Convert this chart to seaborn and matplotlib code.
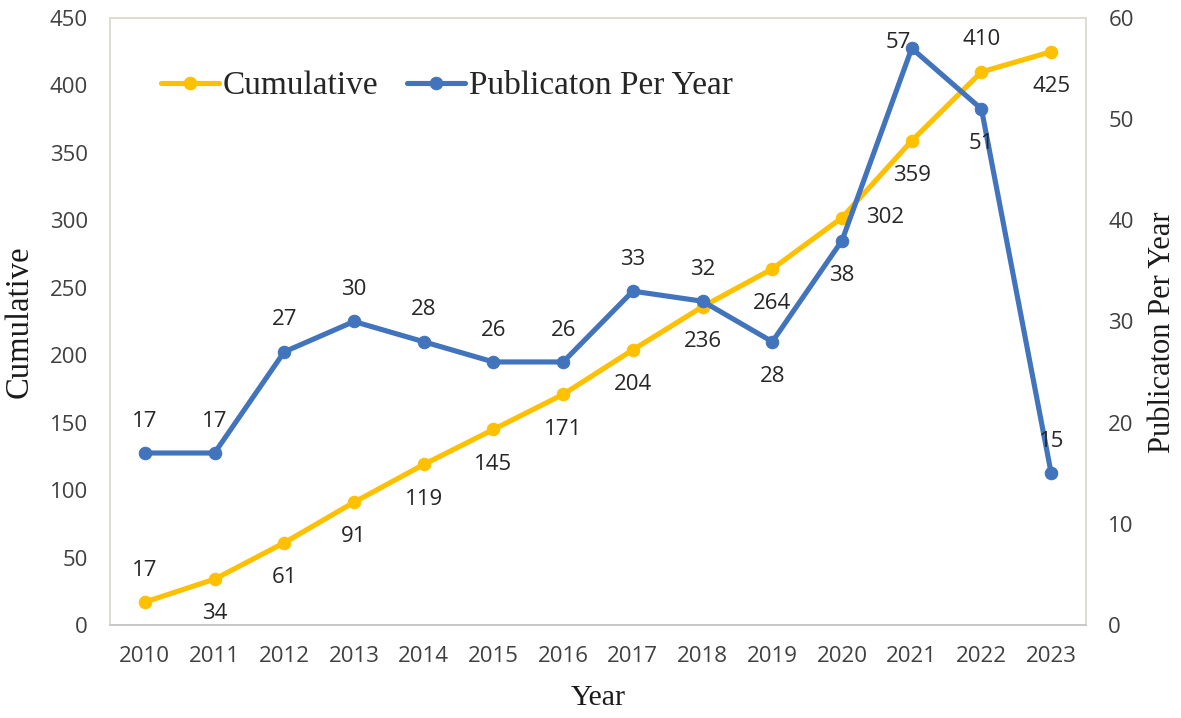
import matplotlib
matplotlib.use("Agg")
import matplotlib.pyplot as plt
import pandas as pd
import seaborn as sns

years = ["2010", "2011", "2012", "2013", "2014", "2015", "2016",
         "2017", "2018", "2019", "2020", "2021", "2022", "2023"]
cumulative = [17, 34, 61, 91, 119, 145, 171, 204, 236, 264, 302, 359, 410, 425]
per_year = [17, 17, 27, 30, 28, 26, 26, 33, 32, 28, 38, 57, 51, 15]

# where each data label sits: a = above, b = below, r = right, l = up-left
cum_pos = ["a", "b", "b", "b", "b", "b", "b", "b", "b", "b", "r", "b", "a", "b"]
per_pos = ["a", "a", "a", "a", "a", "a", "a", "a", "a", "b", "b", "l", "b", "a"]

ORANGE = "#FFC000"
BLUE = "#4174BC"
SANS = "Open Sans"
SERIF = "Liberation Serif"

sns.set_theme(style="white")
plt.rcParams["font.family"] = [SANS, "DejaVu Sans"]

df = pd.DataFrame({"year": years, "cumulative": cumulative, "per_year": per_year})

fig = plt.figure(figsize=(11.81, 7.18), dpi=100)
ax = fig.add_axes([0.0931, 0.1295, 0.8265, 0.8455])
ax2 = ax.twinx()

sns.lineplot(data=df, x="year", y="cumulative", ax=ax, color=ORANGE, lw=3.7,
             marker="o", markersize=9, markeredgecolor=ORANGE, label="Cumulative",
             legend=False)
sns.lineplot(data=df, x="year", y="per_year", ax=ax2, color=BLUE, lw=3.7,
             marker="o", markersize=9, markeredgecolor=BLUE, label="Publicaton Per Year",
             legend=False)

ax.set_xlim(-0.5, len(years) - 0.5)
ax.set_ylim(0, 450)
ax.set_yticks(range(0, 451, 50))
ax2.set_ylim(0, 60)
ax2.set_yticks(range(0, 61, 10))

offsets = {"a": (0, 23), "b": (0, -25), "r": (31, 0), "l": (-10, 4)}


def label_points(axis, values, pos):
    for i, (v, p) in enumerate(zip(values, pos)):
        axis.annotate(str(v), (i, v), xytext=offsets[p], textcoords="offset points",
                      ha="center", va="center", fontsize=16, color="#262626",
                      family=SANS)


label_points(ax, cumulative, cum_pos)
label_points(ax2, per_year, per_pos)

for a in (ax, ax2):
    a.tick_params(axis="both", length=0, labelsize=16, labelcolor="#404040")
    for s in a.spines.values():
        s.set_color("#DEDBD2")
        s.set_linewidth(1.2)
    a.spines["bottom"].set_color("#C8C8C8")
ax.tick_params(axis="x", pad=15)
ax.tick_params(axis="y", pad=16)
ax2.tick_params(axis="y", pad=16)

ax.set_xlabel("Year", family=SERIF, fontsize=21.5, color="#1a1a1a")
ax.set_ylabel("Cumulative", family=SERIF, fontsize=23.5, color="#1a1a1a")
ax2.set_ylabel("Publicaton Per Year", family=SERIF, fontsize=22, color="#1a1a1a")
ax.xaxis.set_label_coords(0.5, -0.099)
ax.yaxis.set_label_coords(-0.077, 0.5)
ax2.yaxis.set_label_coords(1.063, 0.483)

h1, l1 = ax.get_legend_handles_labels()
h2, l2 = ax2.get_legend_handles_labels()
ax.legend(h1 + h2, l1 + l2, loc="center left", bbox_to_anchor=(0.052, 0.888),
          frameon=False, ncol=2, prop={"family": SERIF, "size": 24},
          handlelength=1.75, handletextpad=0.12, columnspacing=0.85,
          borderaxespad=0, borderpad=0)

fig.savefig("out.png", dpi=100)
